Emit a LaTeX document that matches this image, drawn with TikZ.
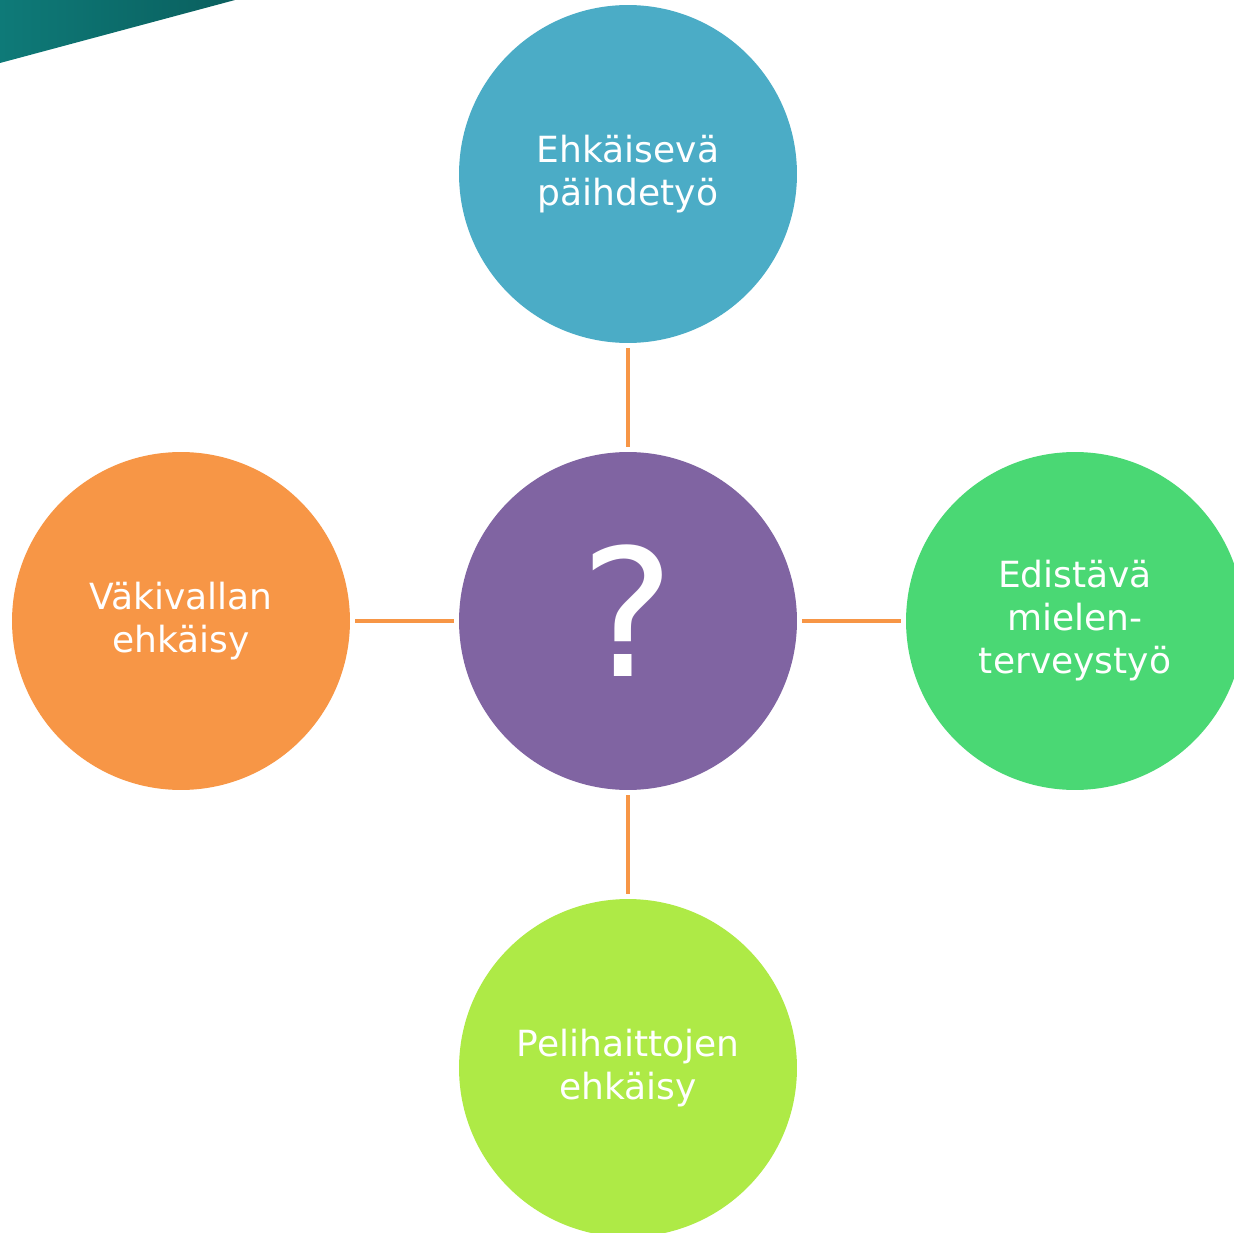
\documentclass[tikz,border=0pt]{standalone}
\usepackage{fontspec}
\setmainfont{DejaVu Sans}
\usepackage{xcolor}
\definecolor{ehkblue}{HTML}{4BACC6}
\definecolor{kyspurple}{HTML}{8064A2}
\definecolor{vakorange}{HTML}{F79646}
\definecolor{mielgreen}{HTML}{4AD874}
\definecolor{pelilime}{HTML}{AEEA46}
\definecolor{cornerteal}{HTML}{0E7A78}
\definecolor{cornerdark}{HTML}{0A5F5E}

\begin{document}
\begin{tikzpicture}[x=0.02cm, y=-0.02cm]
\tikzstyle{blob}=[circle, minimum size=6.76cm, inner sep=0pt, text=white, align=center, font=\fontsize{20.5}{24.5}\selectfont]
\tikzstyle{link}=[draw=vakorange, line width=2.3pt, shorten <=0.1cm, shorten >=0.1cm]
\useasboundingbox (0,0) rectangle (1234,1233);
\clip (0,0) rectangle (1234,1233);
% corner band
\shade[left color=cornerteal, right color=cornerdark] (0,0) -- (235,0) -- (0,63) -- cycle;

\node[blob, fill=kyspurple] (kys) at (628,621) {};
\node[text=white, font=\fontsize{101}{101}\selectfont] (qm) at (628,611) {?};
\node[blob, fill=ehkblue] (paihde) at (628,174) {Ehkäisevä\\päihdetyö};
\node[blob, fill=vakorange] (vakiv) at (181,621) {Väkivallan\\ehkäisy};
\node[blob, fill=mielgreen] (mieli) at (1075,621) {Edistävä\\mielen-\\terveystyö};
\node[blob, fill=pelilime] (peli) at (628,1068) {Pelihaittojen\\ehkäisy};

\path[link]
(kys) edge (paihde)
      edge (vakiv)
      edge (mieli)
      edge (peli);
\end{tikzpicture}
\end{document}
